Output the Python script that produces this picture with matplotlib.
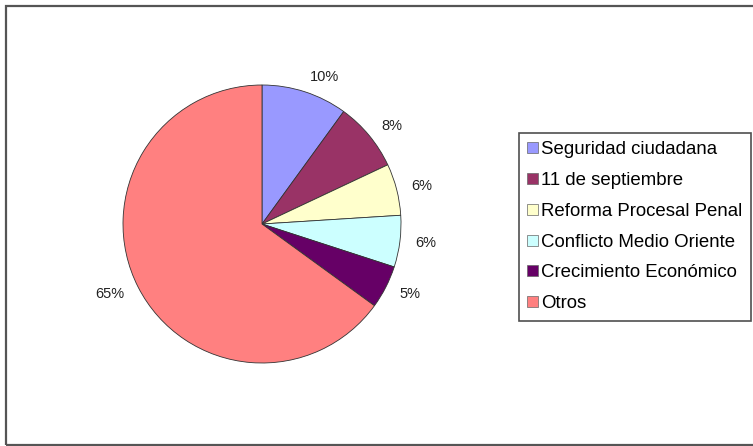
import matplotlib.pyplot as plt
from matplotlib.patches import Rectangle, Patch

# Datos del gráfico
temas = ["Seguridad ciudadana", "11 de septiembre", "Reforma Procesal Penal",
         "Conflicto Medio Oriente", "Crecimiento Económico", "Otros"]
porcentajes = [10, 8, 6, 6, 5, 65]
colores = ["#9999FF", "#993366", "#FFFFCC", "#CCFFFF", "#660066", "#FF8080"]
etiquetas = [f"{p}%" for p in porcentajes]

W, H = 753, 446
fig = plt.figure(figsize=(W / 100, H / 100), dpi=100)

# Ejes del pie colocados en píxeles (centro 262,224; radio 139)
cx, cy, r = 262, 224, 139
ax = fig.add_axes([(cx - r) / W, (H - cy - r) / H, 2 * r / W, 2 * r / H])
wedges, textos = ax.pie(porcentajes, labels=etiquetas, colors=colores,
                        startangle=90, counterclock=False, labeldistance=1.11,
                        wedgeprops=dict(edgecolor="#333333", linewidth=0.6),
                        textprops=dict(family="Liberation Sans", fontsize=10.5,
                                       color="#222222"))
ax.set_xlim(-1, 1)
ax.set_ylim(-1, 1)
ax.set_aspect("equal")

# Leyenda a la derecha
handles = [Patch(facecolor=c, edgecolor="#666666", linewidth=0.5) for c in colores]
leg = fig.legend(handles, temas, loc="upper left",
                 bbox_to_anchor=(519 / W, 1 - 133 / H),
                 frameon=True, fancybox=False, borderaxespad=0,
                 handlelength=0.55, handleheight=0.55, handletextpad=0.2,
                 labelspacing=0.74, borderpad=0.45,
                 prop=dict(family="Liberation Sans", size=13.4))
leg.get_frame().set_edgecolor("#222222")
leg.get_frame().set_linewidth(1.2)

# Marco exterior del área del gráfico
fig.patches.append(Rectangle((5.5 / W, 0.8 / H), 1.0, (H - 6.5) / H,
                             transform=fig.transFigure, fill=False,
                             edgecolor="#555555", linewidth=1.6))

fig.savefig("out.png", dpi=100)
